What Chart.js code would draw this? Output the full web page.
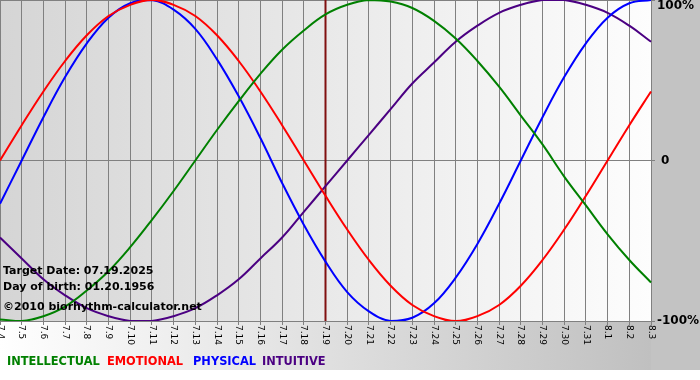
<!DOCTYPE html>
<html>
<head>
<meta charset="utf-8">
<script src="https://cdn.jsdelivr.net/npm/chart.js@4/dist/chart.umd.min.js"></script>
<style>
  html, body { margin: 0; padding: 0; background: #fff; }
  canvas { display: block; }
</style>
</head>
<body>
<canvas id="bio" width="700" height="380"></canvas>
<script>
// day labels, 7.4 .. 8.3
const dates = ['7.4','7.5','7.6','7.7','7.8','7.9','7.10','7.11','7.12','7.13','7.14','7.15','7.16','7.17','7.18','7.19',
  '7.20','7.21','7.22','7.23','7.24','7.25','7.26','7.27','7.28','7.29','7.30','7.31','8.1','8.2','8.3'];

// cycle values in percent, read per day
const intellectual = [-99,-100,-97,-91,-81,-69,-54,-37,-19,0,19,37,54,69,81,91,97,100,99,95,87,76,62,46,28,10,-10,-28,-46,-62,-76];
const emotional = [0,22,43,62,78,90,97,100,97,90,78,62,43,22,0,-22,-43,-62,-78,-90,-97,-100,-97,-90,-78,-62,-43,-22,0,22,43];
const physical = [-27,0,27,52,73,89,98,100,94,82,63,40,14,-14,-40,-63,-82,-94,-100,-98,-89,-73,-52,-27,0,27,52,73,89,98,100];
const intuitive = [-48,-61,-74,-84,-92,-97,-100,-100,-97,-92,-84,-74,-61,-48,-32,-16,0,16,32,48,61,74,84,92,97,100,100,97,92,84,74];

const targetDay = '7.19';
const yLabels = ['100%', '0', '-100%'];
const legendNames = ['INTELLECTUAL', 'EMOTIONAL', 'PHYSICAL', 'INTUITIVE'];
const infoLines = ['Target Date: 07.19.2025', 'Day of birth: 01.20.1956', '\u00a92010 biorhythm-calculator.net'];

const colors = ['#008000', '#ff0000', '#0000ff', '#4b0082'];
const FONT = '"DejaVu Sans", Verdana, sans-serif';

const bioPlugin = {
  id: 'bio',
  beforeDraw(chart) {
    const { ctx, chartArea: a, width, height } = chart;
    ctx.save();
    ctx.fillStyle = '#fff';
    ctx.fillRect(0, 0, width, height);
    let g = ctx.createLinearGradient(0, 0, a.right, 0);
    g.addColorStop(0, '#ffffff');
    g.addColorStop(1, '#c0c0c0');
    ctx.fillStyle = g;
    ctx.fillRect(0, 0, width, 370);
    ctx.fillStyle = '#c3c3c3';
    ctx.fillRect(a.right, 0, width - a.right, 370);
    g = ctx.createLinearGradient(a.left, 0, a.right, 0);
    g.addColorStop(0, '#d5d5d5');
    g.addColorStop(1, '#fdfdfd');
    ctx.fillStyle = g;
    ctx.fillRect(a.left, a.top, a.right - a.left, a.bottom - a.top);
    ctx.restore();
  },
  beforeDatasetsDraw(chart) {
    const { ctx, chartArea: a, scales } = chart;
    const x = scales.x.getPixelForValue(dates.indexOf(targetDay));
    ctx.save();
    ctx.strokeStyle = '#801010';
    ctx.lineWidth = 2;
    ctx.beginPath();
    ctx.moveTo(x, a.top);
    ctx.lineTo(x, a.bottom);
    ctx.stroke();
    ctx.restore();
  },
  afterDraw(chart) {
    const { ctx, chartArea: a, scales } = chart;
    ctx.save();
    // date labels, rotated clockwise
    ctx.fillStyle = '#000';
    ctx.font = '9px ' + FONT;
    ctx.textAlign = 'left';
    ctx.textBaseline = 'middle';
    dates.forEach((d, i) => {
      const x = scales.x.getPixelForTick(i);
      ctx.save();
      ctx.translate(x, a.bottom + 4);
      ctx.rotate(Math.PI / 2);
      ctx.fillText(d, 0, 0);
      ctx.restore();
    });
    // right axis labels
    ctx.font = 'bold 12px ' + FONT;
    ctx.fillStyle = '#000';
    ctx.fillText(yLabels[0], a.right + 6, scales.y.getPixelForValue(100) + 6);
    ctx.fillText(yLabels[1], a.right + 10, scales.y.getPixelForValue(0));
    ctx.fillText(yLabels[2], a.right + 6, scales.y.getPixelForValue(-100));
    // info text
    ctx.font = 'bold 11px ' + FONT;
    ctx.fillText(infoLines[0], 3, 271);
    ctx.fillText(infoLines[1], 3, 287);
    ctx.fillText(infoLines[2], 3, 307);
    // legend
    const legendX = [7, 107, 193, 262];
    ctx.font = 'bold 11.4px ' + FONT;
    legendNames.forEach((n, i) => {
      ctx.fillStyle = colors[i];
      ctx.fillText(n, legendX[i], 362);
    });
    ctx.restore();
  }
};

const mk = (label, data, color) => ({
  label, data, borderColor: color, borderWidth: 2, pointRadius: 0, tension: 0.4, fill: false
});

new Chart(document.getElementById('bio'), {
  type: 'line',
  data: {
    labels: dates,
    datasets: [
      mk('INTELLECTUAL', intellectual, colors[0]),
      mk('EMOTIONAL', emotional, colors[1]),
      mk('PHYSICAL', physical, colors[2]),
      mk('INTUITIVE', intuitive, colors[3]),
    ]
  },
  options: {
    responsive: false,
    animation: false,
    devicePixelRatio: 1,
    layout: { padding: { top: 0, left: 0, right: 0, bottom: 0 } },
    plugins: { legend: { display: false }, tooltip: { enabled: false } },
    scales: {
      x: {
        offset: false,
        ticks: { display: false },
        grid: { color: '#808080', tickLength: 4 },
        border: { display: false },
        afterFit(s) { s.height = 59; }
      },
      y: {
        position: 'right',
        min: -100, max: 100,
        ticks: { display: false, stepSize: 100 },
        grid: { color: '#808080', tickLength: 4 },
        border: { display: false },
        afterFit(s) { s.width = 49; }
      }
    }
  },
  plugins: [bioPlugin]
});
</script>
</body>
</html>
